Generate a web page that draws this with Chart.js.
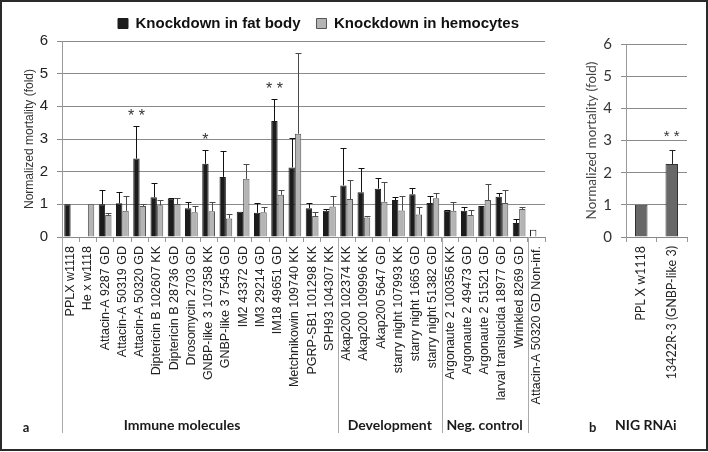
<!DOCTYPE html>
<html>
<head>
<meta charset="utf-8">
<script src="https://cdn.jsdelivr.net/npm/chart.js@4.4.0/dist/chart.umd.min.js"></script>
<style>
  body { margin: 0; background: #fff; }
  #frame { position: absolute; left: 0; top: 0; width: 708px; height: 451px; box-sizing: border-box; border: 2px solid #2a2a2a; }
  #chartA { position: absolute; left: 0; top: 0; }
  #chartB { position: absolute; left: 575px; top: 0; }
</style>
</head>
<body>
<div id="frame"></div>
<canvas id="chartA" width="575" height="452"></canvas>
<canvas id="chartB" width="133" height="452"></canvas>
<script>
// panel a: VDRC lines
const lines = [
  "PPLX w1118", "He x w1118", "Attacin-A 9287 GD", "Attacin-A 50319 GD", "Attacin-A 50320 GD",
  "Diptericin B 102607 KK", "Diptericin B 28736 GD", "Drosomycin 2703 GD", "GNBP-like 3 107358 KK",
  "GNBP-like 3 7545 GD", "IM2 43372 GD", "IM3 29214 GD", "IM18 49651 GD", "Metchnikowin 109740 KK",
  "PGRP-SB1 101298 KK", "SPH93 104307 KK", "Akap200 102374 KK", "Akap200 109996 KK", "Akap200 5647 GD",
  "starry night 107993 KK", "starry night 1665 GD", "starry night 51382 GD", "Argonaute 2 100356 KK",
  "Argonaute 2 49473 GD", "Argonaute 2 51521 GD", "larval translucida 18977 GD", "Wrinkled 8269 GD",
  "Attacin-A 50320 GD Non-inf."
];
const fatBody = [1, null, 1.0, 1.03, 2.4, 1.22, 1.17, 0.88, 2.24, 1.84, 0.77, 0.74, 3.55, 2.13, 0.88, 0.8,
  1.58, 1.37, 1.48, 1.13, 1.31, 1.04, 0.81, 0.8, 0.95, 1.23, 0.43, 0.22];
const fatBodyErr = [0, 0, 0.45, 0.35, 1.0, 0.44, 0.03, 0.18, 0.42, 0.79, 0, 0.29, 0.67, 0.89, 0.15, 0.06,
  1.14, 0.75, 0.33, 0.09, 0.19, 0.23, 0.02, 0.11, 0, 0.11, 0.13, 0];
const hemocytes = [null, 1, 0.67, 0.8, 0.95, 0.97, 1.01, 0.76, 0.79, 0.57, 1.78, 0.76, 1.29, 3.16, 0.64, 0.93,
  1.16, 0.6, 1.08, 0.81, 0.69, 1.19, 0.8, 0.67, 1.13, 1.04, 0.86, null];
const hemocytesErr = [0, 0, 0.05, 0.47, 0.07, 0.15, 0.18, 0.19, 0.27, 0.12, 0.47, 0.15, 0.14, 2.48, 0.12, 0.33,
  0.59, 0.04, 0.61, 0.43, 0.22, 0.15, 0.27, 0.16, 0.5, 0.4, 0.07, 0];
const fatBodySig = ["", "", "", "", "**", "", "", "", "*", "", "", "", "**", "", "", "",
  "", "", "", "", "", "", "", "", "", "", "", ""];
const groups = [
  { label: "Immune molecules", from: 0, to: 15 },
  { label: "Development", from: 16, to: 21 },
  { label: "Neg. control", from: 22, to: 26 }
];

// panel b: NIG line
const nigLines = ["PPL X w1118", "13422R-3 (GNBP-like 3)"];
const nigValues = [1, 2.27];
const nigErr = [0, 0.44];
const nigSig = ["", "**"];

const ARIAL = "'Liberation Sans', Arial, sans-serif";
const CALIBRI = "Lato, 'Open Sans', sans-serif";

function drawErrors(chart, dsIndex, errs, color) {
  const ctx = chart.ctx;
  const y = chart.scales.y;
  const meta = chart.getDatasetMeta(dsIndex);
  const values = chart.data.datasets[dsIndex].data;
  ctx.save();
  ctx.strokeStyle = color;
  ctx.lineWidth = 1;
  meta.data.forEach((bar, i) => {
    if (values[i] == null || !errs[i]) return;
    const top = Math.round(y.getPixelForValue(values[i] + errs[i])) + 0.5;
    const x = Math.round(bar.x) + 0.5;
    ctx.beginPath();
    ctx.moveTo(x, bar.y);
    ctx.lineTo(x, top);
    ctx.moveTo(x - 3, top);
    ctx.lineTo(x + 3, top);
    ctx.stroke();
  });
  ctx.restore();
}

function drawStars(chart, dsIndex, errs, marks, font, gap) {
  const ctx = chart.ctx;
  const y = chart.scales.y;
  const meta = chart.getDatasetMeta(dsIndex);
  const values = chart.data.datasets[dsIndex].data;
  ctx.save();
  ctx.fillStyle = "#333";
  ctx.font = font;
  ctx.textAlign = "center";
  ctx.textBaseline = "alphabetic";
  meta.data.forEach((bar, i) => {
    if (!marks[i]) return;
    const top = y.getPixelForValue(values[i] + (errs[i] || 0));
    ctx.fillText(marks[i].split("").join(" "), bar.x, top - gap);
  });
  ctx.restore();
}

const panelA = {
  id: "panelA",
  afterLayout(chart) {
    // legend sits above the plot, first box near x=118
    const lg = chart.legend;
    const w = lg.right - lg.left;
    lg.left = 102;
    lg.right = lg.left + w;
    lg.top = 0;
  },
  afterDatasetsDraw(chart) {
    drawErrors(chart, 0, fatBodyErr, "#111");
    drawErrors(chart, 1, hemocytesErr, "#4a4a4a");
    drawStars(chart, 0, fatBodyErr, fatBodySig, "16px " + ARIAL, 5);
  },
  afterDraw(chart) {
    const ctx = chart.ctx;
    const x = chart.scales.x;
    const area = chart.chartArea;
    const edge = i => i <= 0 ? area.left : (x.getPixelForValue(i - 1) + x.getPixelForValue(i)) / 2;
    ctx.save();
    ctx.strokeStyle = "#aaa";
    ctx.lineWidth = 1;
    const cuts = [0].concat(groups.map(g => g.to + 1));
    cuts.forEach(i => {
      const px = Math.round(edge(i)) + 0.5;
      ctx.beginPath();
      ctx.moveTo(px, area.bottom);
      ctx.lineTo(px, 433);
      ctx.stroke();
    });
    ctx.fillStyle = "#1a1a1a";
    ctx.textAlign = "center";
    ctx.textBaseline = "middle";
    ctx.font = "bold 13px " + CALIBRI;
    ctx.fillText("a", 26, 428);
    ctx.font = "bold 14px " + CALIBRI;
    groups.forEach((g, k) => {
      const left = k === 0 ? 26 : edge(g.from);
      ctx.fillText(g.label, (left + edge(g.to + 1)) / 2, 425);
    });
    ctx.restore();
  }
};

const panelB = {
  id: "panelB",
  afterDatasetsDraw(chart) {
    drawErrors(chart, 0, nigErr, "#222");
    drawStars(chart, 0, nigErr, nigSig, "15px " + ARIAL, 9);
  },
  afterDraw(chart) {
    const ctx = chart.ctx;
    const left = chart.chartArea.left;
    ctx.save();
    ctx.fillStyle = "#1a1a1a";
    ctx.textBaseline = "middle";
    ctx.textAlign = "left";
    ctx.font = "bold 13px " + CALIBRI;
    ctx.fillText("b", left - 37, 428);
    ctx.font = "bold 14px " + CALIBRI;
    ctx.fillText("NIG RNAi", left - 11, 425);
    ctx.restore();
  }
};

const whiteLast = fatBody.map((v, i) => i === fatBody.length - 1 ? "#ffffff" : "#1c1c1c");
const edgeLast = fatBody.map((v, i) => i === fatBody.length - 1 ? "#222" : "#1c1c1c");

new Chart(document.getElementById("chartA"), {
  type: "bar",
  data: {
    labels: lines,
    datasets: [
      { label: "Knockdown in fat body", data: fatBody, backgroundColor: whiteLast, borderColor: edgeLast, borderWidth: 1 },
      { label: "Knockdown in hemocytes", data: hemocytes, backgroundColor: "#b4b4b4", borderColor: "#555", borderWidth: 1 }
    ]
  },
  options: {
    responsive: false,
    animation: false,
    categoryPercentage: 0.74,
    barPercentage: 1,
    layout: { padding: { top: 0, right: 30, left: 0, bottom: 0 } },
    plugins: {
      legend: {
        align: "start",
        maxHeight: 44,
        labels: { boxWidth: 10, boxHeight: 10, padding: 16, color: "#111", font: { family: ARIAL, size: 15, weight: "bold" } }
      },
      tooltip: { enabled: false }
    },
    scales: {
      x: {
        grid: { drawOnChartArea: false, tickLength: 5, color: "#999" },
        border: { color: "#888" },
        ticks: { autoSkip: false, minRotation: 90, maxRotation: 90, padding: 4, color: "#222", font: { family: ARIAL, size: 12.5 } },
        afterFit(s) { s.height = 452 - 237; }
      },
      y: {
        min: 0,
        max: 6,
        ticks: { stepSize: 1, padding: 9, color: "#222", font: { family: ARIAL, size: 15 } },
        grid: { color: "#8a8a8a", tickLength: 5 },
        border: { color: "#999" },
        title: { display: true, text: "Normalized mortality (fold)", color: "#333", font: { family: ARIAL, size: 12 }, padding: { top: 22, bottom: 0 } },
        afterFit(s) { s.width = 62; }
      }
    }
  },
  plugins: [panelA]
});

new Chart(document.getElementById("chartB"), {
  type: "bar",
  data: {
    labels: nigLines,
    datasets: [
      { label: "NIG RNAi", data: nigValues, backgroundColor: "#686868", borderColor: "#333", borderWidth: 1 }
    ]
  },
  options: {
    responsive: false,
    animation: false,
    categoryPercentage: 1,
    barPercentage: 0.41,
    layout: { padding: { top: 44, right: 21, left: 0, bottom: 0 } },
    plugins: { legend: { display: false }, tooltip: { enabled: false } },
    scales: {
      x: {
        grid: { drawOnChartArea: false, tickLength: 5, color: "#999" },
        border: { color: "#888" },
        ticks: { autoSkip: false, minRotation: 90, maxRotation: 90, padding: 4, color: "#222", font: { family: CALIBRI, size: 12.5 } },
        afterFit(s) { s.height = 452 - 237; }
      },
      y: {
        min: 0,
        max: 6,
        ticks: { stepSize: 1, padding: 9, color: "#333", font: { family: CALIBRI, size: 15 } },
        grid: { color: "#8a8a8a", tickLength: 5 },
        border: { color: "#999" },
        title: { display: true, text: "Normalized mortality (fold)", color: "#444", font: { family: CALIBRI, size: 13.5 }, padding: { top: 9, bottom: 0 } },
        afterFit(s) { s.width = 51; }
      }
    }
  },
  plugins: [panelB]
});
</script>
</body>
</html>
